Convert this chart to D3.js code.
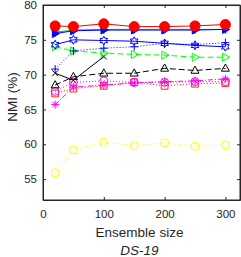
<!DOCTYPE html>
<html>
<head>
<meta charset="utf-8">
<script src="https://cdn.jsdelivr.net/npm/d3@7"></script>
<style>
body{margin:0;background:#fff;}
text{font-family:"Liberation Sans",Arial,sans-serif;fill:#262626;}
</style>
</head>
<body>
<script>
// ensemble sizes
var sizes=[20,50,100,150,200,250,300];
var yTicks=[55,60,65,70,75,80];
var xTicks=[0,100,200,300];

var redDots  =[77.0,76.9,77.3,76.9,76.9,77.0,77.2];
var blueTri  =[75.9,76.3,76.4,76.4,76.4,76.4,76.5];
var greenTri =[76.1,76.4,76.5,76.5,76.5,76.5,76.5];
var blueHex  =[74.3,75.0,74.9,74.8,74.5,74.2,74.0];
var bluePlus =[70.8,73.4,73.8,74.0,74.5,74.3,74.6];
var greenOpen=[74.0,73.4,73.1,72.9,72.8,72.5,72.5];
var blackTri =[68.5,69.7,70.2,70.2,70.9,70.6,70.9];
var blackX   =[70.2,69.2,72.6];
var magCirc  =[67.6,68.9,69.1,68.9,68.9,69.0,69.0];
var magStar  =[65.7,68.2,68.5,68.8,69.0,69.1,69.4];
var redSq    =[67.3,68.0,68.4,68.9,68.4,68.7,68.8];
var yellowC  =[55.9,59.2,60.3,59.8,60.2,59.7,59.9];

var series=[
 {v:yellowC,  c:"#ffff00", dash:"1,2",   m:"circle", fill:false},
 {v:redSq,    c:"#ff2020", dash:"1,2",   m:"square", fill:false},
 {v:magStar,  c:"#ff00ff", dash:"5,2,1,2", m:"asterisk", fill:false},
 {v:magCirc,  c:"#ff00ff", dash:"1,2",   m:"circle", fill:false},
 {v:blackX,   c:"#000000", dash:null,    m:"x", fill:false},
 {v:blackTri, c:"#000000", dash:"6,3",   m:"triup", fill:false},
 {v:greenOpen,c:"#00ff00", dash:"6,3",   m:"triright", fill:false},
 {v:bluePlus, c:"#0000ff", dash:"1,2",   m:"plus", fill:false},
 {v:blueHex,  c:"#0000ff", dash:null,    m:"hex", fill:false},
 {v:greenTri, c:"#00cc00", dash:null,    m:"tridown", fill:true},
 {v:blueTri,  c:"#0000ff", dash:null,    m:"triright", fill:true},
 {v:redDots,  c:"#ff0000", dash:null,    m:"circle", fill:true, r:5}
];

var W=241,H=257;
var pl=43,pr=240,pt=5,pb=200;
var x=d3.scaleLinear().domain([0,324]).range([pl,pr]);
var y=d3.scaleLinear().domain([52,80]).range([pb,pt]);

var svg=d3.select("body").append("svg").attr("width",W).attr("height",H);

function marker(type,r){
  var p=d3.path();
  if(type=="circle"){p.arc(0,0,r,0,2*Math.PI);p.closePath();}
  else if(type=="square"){p.rect(-r*0.85,-r*0.85,r*1.7,r*1.7);}
  else if(type=="triup"){p.moveTo(0,-r*1.1);p.lineTo(r,r*0.7);p.lineTo(-r,r*0.7);p.closePath();}
  else if(type=="tridown"){p.moveTo(0,r*1.1);p.lineTo(r,-r*0.7);p.lineTo(-r,-r*0.7);p.closePath();}
  else if(type=="triright"){p.moveTo(r*1.1,0);p.lineTo(-r*0.7,-r);p.lineTo(-r*0.7,r);p.closePath();}
  else if(type=="plus"){p.moveTo(-r,0);p.lineTo(r,0);p.moveTo(0,-r);p.lineTo(0,r);}
  else if(type=="x"){var k=r*0.75;p.moveTo(-k,-k);p.lineTo(k,k);p.moveTo(-k,k);p.lineTo(k,-k);}
  else if(type=="asterisk"){
    p.moveTo(-r,0);p.lineTo(r,0);p.moveTo(0,-r);p.lineTo(0,r);
    var k=r*0.7;p.moveTo(-k,-k);p.lineTo(k,k);p.moveTo(-k,k);p.lineTo(k,-k);}
  else if(type=="hex"){
    for(var i=0;i<12;i++){
      var a=-Math.PI/2+i*Math.PI/6, rr=(i%2==0)?r*1.1:r*0.6;
      if(i==0)p.moveTo(rr*Math.cos(a),rr*Math.sin(a)); else p.lineTo(rr*Math.cos(a),rr*Math.sin(a));
    }
    p.closePath();}
  return p.toString();
}

// box
svg.append("rect").attr("x",pl).attr("y",pt).attr("width",pr-pl).attr("height",pb-pt)
  .attr("fill","none").attr("stroke","#262626").attr("stroke-width",1);

var gx=svg.append("g").attr("transform","translate(0,"+pb+")")
  .call(d3.axisBottom(x).tickValues(xTicks).tickSize(-3).tickPadding(10).tickSizeOuter(0));
var gxt=svg.append("g").attr("transform","translate(0,"+pt+")")
  .call(d3.axisTop(x).tickValues(xTicks).tickSize(-3).tickFormat("").tickSizeOuter(0));
var gy=svg.append("g").attr("transform","translate("+pl+",0)")
  .call(d3.axisLeft(y).tickValues(yTicks).tickSize(-3).tickPadding(6).tickSizeOuter(0));
var gyr=svg.append("g").attr("transform","translate("+pr+",0)")
  .call(d3.axisRight(y).tickValues(yTicks).tickSize(-3).tickFormat("").tickSizeOuter(0));
[gx,gxt,gy,gyr].forEach(function(g){
  g.select(".domain").attr("stroke","#262626");
  g.selectAll("line").attr("stroke","#262626");
  g.selectAll("text").style("font-size","11.5px").attr("fill","#262626").style("font-family","Liberation Sans, Arial, sans-serif");
});

var line=d3.line().x(function(d,i){return x(sizes[i]);}).y(function(d){return y(d);});

series.forEach(function(s){
  var g=svg.append("g");
  g.append("path").attr("d",line(s.v)).attr("fill","none").attr("stroke",s.c)
    .attr("stroke-width",1).attr("stroke-dasharray",s.dash);
  g.selectAll("path.m").data(s.v).enter().append("path").attr("class","m")
    .attr("transform",function(d,i){return "translate("+x(sizes[i])+","+y(d)+")";})
    .attr("d",marker(s.m,s.r||4))
    .attr("fill",s.fill?s.c:"none").attr("stroke",s.c).attr("stroke-width",1);
});

svg.append("text").attr("x",(pl+pr)/2-2).attr("y",237).attr("text-anchor","middle")
  .style("font-size","13.5px").text("Ensemble size");
svg.append("text").attr("x",(pl+pr)/2-2).attr("y",255).attr("text-anchor","middle")
  .style("font-size","13.5px").style("font-style","italic").text("DS-19");
svg.append("text").attr("transform","translate(17,97) rotate(-90)")
  .attr("text-anchor","middle").style("font-size","13.5px").text("NMI (%)");
</script>
</body>
</html>
